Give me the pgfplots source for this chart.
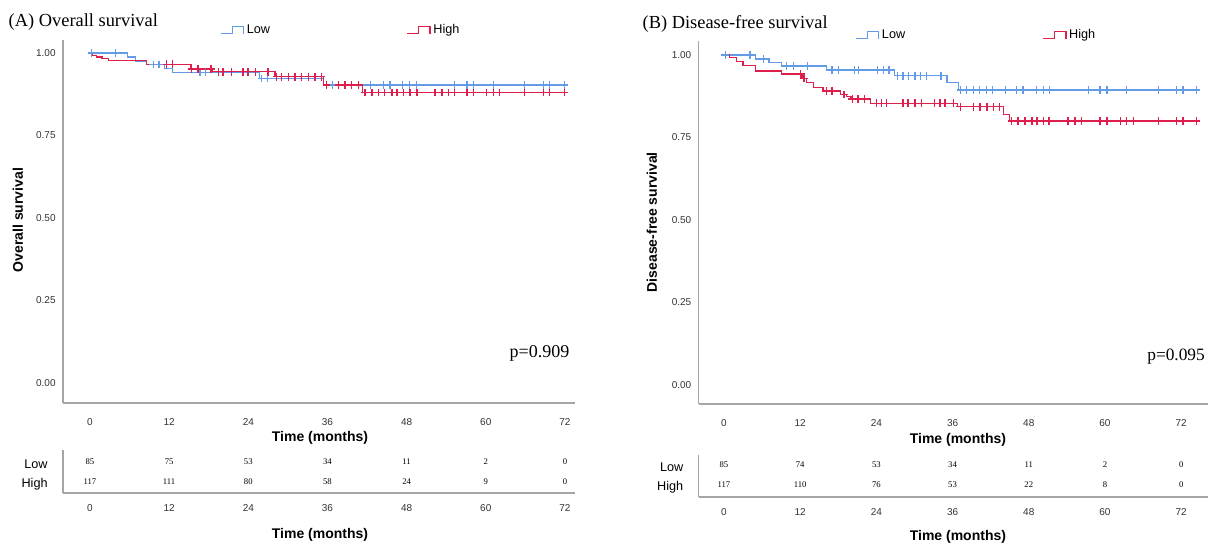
\documentclass[border=0pt]{standalone}
\usepackage{pgfplots}
\pgfplotsset{compat=1.18}
\usepackage{fontspec}
\setmainfont{Liberation Serif}
\newfontfamily\arial{Liberation Sans}

\definecolor{kmblue}{RGB}{100,155,230}
\definecolor{kmred}{RGB}{222,30,75}
\definecolor{axgray}{RGB}{165,165,165}

\pgfplotsset{
  base/.style={
    scale only axis,
    axis x line*=bottom, axis y line*=left,
    axis line style={axgray, line width=0.9pt, -},
    major tick length=0pt,
    xtick={0,12,...,72},
    /pgf/number format/assume math mode=true,
    tick label style={font=\arial\fontsize{7.5}{9}\selectfont, text=black!80},
    xticklabel style={yshift=-8pt},
    label style={font=\arial\bfseries\fontsize{10.5}{12}\selectfont},
    clip=false,
  },
  km/.style={
    base,
    ytick={0,0.25,0.5,0.75,1},
    yticklabel style={xshift=-2pt, /pgf/number format/fixed,
      /pgf/number format/fixed zerofill, /pgf/number format/precision=2},
    legend columns=2,
    legend style={draw=none, fill=none, inner sep=0pt, anchor=west,
      font=\arial\fontsize{9.5}{11}\selectfont},
    legend image code/.code={
      \draw[#1] (0pt,-2.5pt) -- (8.5pt,-2.5pt) -- (8.5pt,2.5pt) -- (17pt,2.5pt) -- (17pt,-3pt);},
  },
  risk/.style={
    base,
    ytick={0,1}, yticklabels={High,Low},
    yticklabel style={xshift=-8pt, yshift=-1.5pt, text=black,
      font=\arial\fontsize{9.5}{11}\selectfont},
    xticklabel style={yshift=3pt},
  },
  cens/.style={only marks, mark=+, mark size=2.8pt, mark options={line width=1pt}, forget plot},
  step/.style={const plot, line width=1pt, mark=none},
  nums/.style={draw=none, mark=none, nodes near coords, point meta=explicit symbolic,
    every node near coord/.append style={anchor=center, text=black,
      font=\fontsize{6.5}{7}\selectfont}},
}

\begin{document}
\begin{tikzpicture}
\useasboundingbox (0pt,0pt) rectangle (906pt,-408pt);

% ---------- (A) overall survival ----------
\node[anchor=base west, font=\fontsize{13.8}{16}\selectfont] at (3pt,-19.5pt) {(A) Overall survival};
\begin{axis}[km, at={(47.25pt,-302.25pt)}, anchor=south west,
  width=384pt, height=272.25pt,
  xmin=-4.09, xmax=73.52, ymin=-0.0606, ymax=1.0394,
  ylabel={Overall survival}, xlabel={Time (months)},
  ylabel style={at={(axis description cs:-0.0879,0.504)}, anchor=center},
  xlabel style={at={(axis description cs:0.502,-0.0964)}, anchor=center},
  legend style={at={(axis description cs:0.3066,1.0275)},
    /tikz/every even column/.append style={column sep=100.5pt}},
]
\addplot[kmblue, step] coordinates {
  (0,1) (5.69,0.988) (6.85,0.976) (8.6,0.965) (11.33,0.953) (12.5,0.941)
  (25.72,0.923) (35.35,0.903) (71.93,0.903)};
\addlegendentry{Low}
\addplot[kmblue, cens] coordinates {
  (0.2,1) (3.84,1) (9.58,0.965) (10.45,0.965) (16.68,0.941) (17.55,0.941)
  (26.02,0.923) (26.89,0.923) (36.81,0.903) (42.55,0.903) (44.5,0.903) (45.47,0.903)
  (47.41,0.903) (48.39,0.903) (49.46,0.903) (55.29,0.903) (57.14,0.903) (58.11,0.903)
  (61.13,0.903) (65.9,0.903) (68.72,0.903) (69.69,0.903) (71.93,0.903)};
\addplot[kmred, step] coordinates {
  (0,1) (0.34,0.993) (1.02,0.988) (1.8,0.983) (2.77,0.977) (8.6,0.966)
  (15.32,0.952) (18.62,0.943) (28.06,0.928) (35.35,0.903) (41.29,0.881) (71.93,0.881)};
\addlegendentry{High}
\addplot[kmred, cens] coordinates {
  (11.62,0.966) (12.5,0.966) (15.41,0.952) (16.39,0.952) (18.33,0.952)
  (19.5,0.943) (20.18,0.943) (21.44,0.943) (23.19,0.943) (23.97,0.943) (25.04,0.943) (26.99,0.943)
  (28.25,0.928) (29.03,0.928) (30.1,0.928) (31.07,0.928) (32.05,0.928) (33.12,0.928) (34.09,0.928) (35.06,0.928)
  (35.84,0.903) (37.69,0.903) (38.66,0.903) (39.63,0.903) (40.7,0.903)
  (41.68,0.881) (42.75,0.881) (43.72,0.881) (44.69,0.881) (45.76,0.881) (46.54,0.881)
  (47.51,0.881) (48.49,0.881) (49.55,0.881) (52.28,0.881) (53.35,0.881) (54.32,0.881)
  (55.29,0.881) (57.14,0.881) (58.11,0.881) (60.06,0.881) (61.13,0.881) (62.1,0.881)
  (65.9,0.881) (68.72,0.881) (69.69,0.881) (71.93,0.881)};
\end{axis}
\node[anchor=base west, font=\fontsize{13.5}{16}\selectfont] at (378.75pt,-267.75pt) {p=0.909};

\begin{axis}[risk, at={(47.25pt,-369.75pt)}, anchor=south west,
  width=384pt, height=32.25pt,
  xmin=-4.09, xmax=73.52, ymin=-0.55, ymax=1.6,
  xlabel={Time (months)},
  xlabel style={at={(axis description cs:0.502,-0.977)}, anchor=center},
]
\addplot[nums] table[meta=n] {
x y n
0 1 85
12 1 75
24 1 53
36 1 34
48 1 11
60 1 2
72 1 0
0 0 117
12 0 111
24 0 80
36 0 58
48 0 24
60 0 9
72 0 0
};
\end{axis}

% ---------- (B) disease-free survival ----------
\node[anchor=base west, font=\fontsize{13.8}{16}\selectfont] at (478.5pt,-21pt) {(B) Disease-free survival};
\begin{axis}[km, at={(524.0pt,-303pt)}, anchor=south west,
  width=382pt, height=272.25pt,
  xmin=-3.98, xmax=76.22, ymin=-0.0576, ymax=1.0424,
  ylabel={Disease-free survival}, xlabel={Time (months)},
  ylabel style={at={(axis description cs:-0.0917,0.501)}, anchor=center},
  xlabel style={at={(axis description cs:0.509,-0.0992)}, anchor=center},
  legend style={at={(axis description cs:0.307,1.0165)},
    /tikz/every even column/.append style={column sep=101pt}},
]
\addplot[kmblue, step] coordinates {
  (0,1) (5.0,0.988) (7.1,0.977) (9.1,0.967) (16.2,0.955) (26.9,0.937)
  (35.1,0.917) (36.9,0.894) (74.4,0.894)};
\addlegendentry{Low}
\addplot[kmblue, cens] coordinates {
  (0.2,1) (4.1,1) (6.2,0.988) (9.9,0.967) (10.9,0.967) (13.2,0.967)
  (17.0,0.955) (18.0,0.955) (20.6,0.955) (21.2,0.955) (24.2,0.955) (25.1,0.955) (26.0,0.955)
  (27.3,0.937) (28.2,0.937) (29.1,0.937) (30.1,0.937) (31.0,0.937) (31.9,0.937) (34.2,0.937)
  (37.3,0.894) (38.2,0.894) (39.3,0.894) (40.2,0.894) (41.3,0.894) (42.3,0.894)
  (44.3,0.894) (46.1,0.894) (47.1,0.894) (49.2,0.894) (50.3,0.894) (51.3,0.894)
  (57.4,0.894) (59.2,0.894) (60.3,0.894) (63.4,0.894) (68.4,0.894) (71.3,0.894)
  (72.3,0.894) (74.4,0.894)};
\addplot[kmred, step] coordinates {
  (0,1) (0.9,0.992) (2.0,0.980) (3.0,0.968) (5.0,0.952) (9.1,0.942)
  (12.3,0.929) (13.0,0.917) (14.1,0.901) (15.6,0.891) (18.3,0.881) (19.3,0.874)
  (20.0,0.867) (23.1,0.854) (36.8,0.843) (44.0,0.820) (45.0,0.800) (74.4,0.800)};
\addlegendentry{High}
\addplot[kmred, cens] coordinates {
  (12.1,0.942) (12.6,0.929) (16.2,0.891) (17.0,0.891) (18.9,0.881)
  (20.2,0.867) (21.1,0.867) (22.1,0.867)
  (24.0,0.854) (24.8,0.854) (25.6,0.854) (28.2,0.854) (29.0,0.854) (30.1,0.854)
  (31.1,0.854) (33.2,0.854) (34.0,0.854) (34.8,0.854) (36.1,0.854)
  (37.2,0.843) (39.3,0.843) (40.3,0.843) (41.4,0.843) (42.4,0.843) (43.4,0.843)
  (45.3,0.800) (46.3,0.800) (47.4,0.800) (48.5,0.800) (49.3,0.800) (50.3,0.800)
  (51.2,0.800) (54.2,0.800) (55.3,0.800) (56.3,0.800) (59.2,0.800) (60.3,0.800)
  (62.4,0.800) (63.4,0.800) (64.5,0.800) (68.4,0.800) (71.3,0.800) (72.3,0.800)
  (74.4,0.800)};
\end{axis}
\node[anchor=base west, font=\fontsize{13}{16}\selectfont] at (857pt,-270pt) {p=0.095};

\begin{axis}[risk, at={(524.0pt,-372.75pt)}, anchor=south west,
  width=382pt, height=31.5pt,
  xmin=-3.98, xmax=76.22, ymin=-0.6, ymax=1.5,
  xlabel={Time (months)},
  xlabel style={at={(axis description cs:0.509,-0.952)}, anchor=center},
]
\addplot[nums] table[meta=n] {
x y n
0 1 85
12 1 74
24 1 53
36 1 34
48 1 11
60 1 2
72 1 0
0 0 117
12 0 110
24 0 76
36 0 53
48 0 22
60 0 8
72 0 0
};
\end{axis}
\end{tikzpicture}
\end{document}
